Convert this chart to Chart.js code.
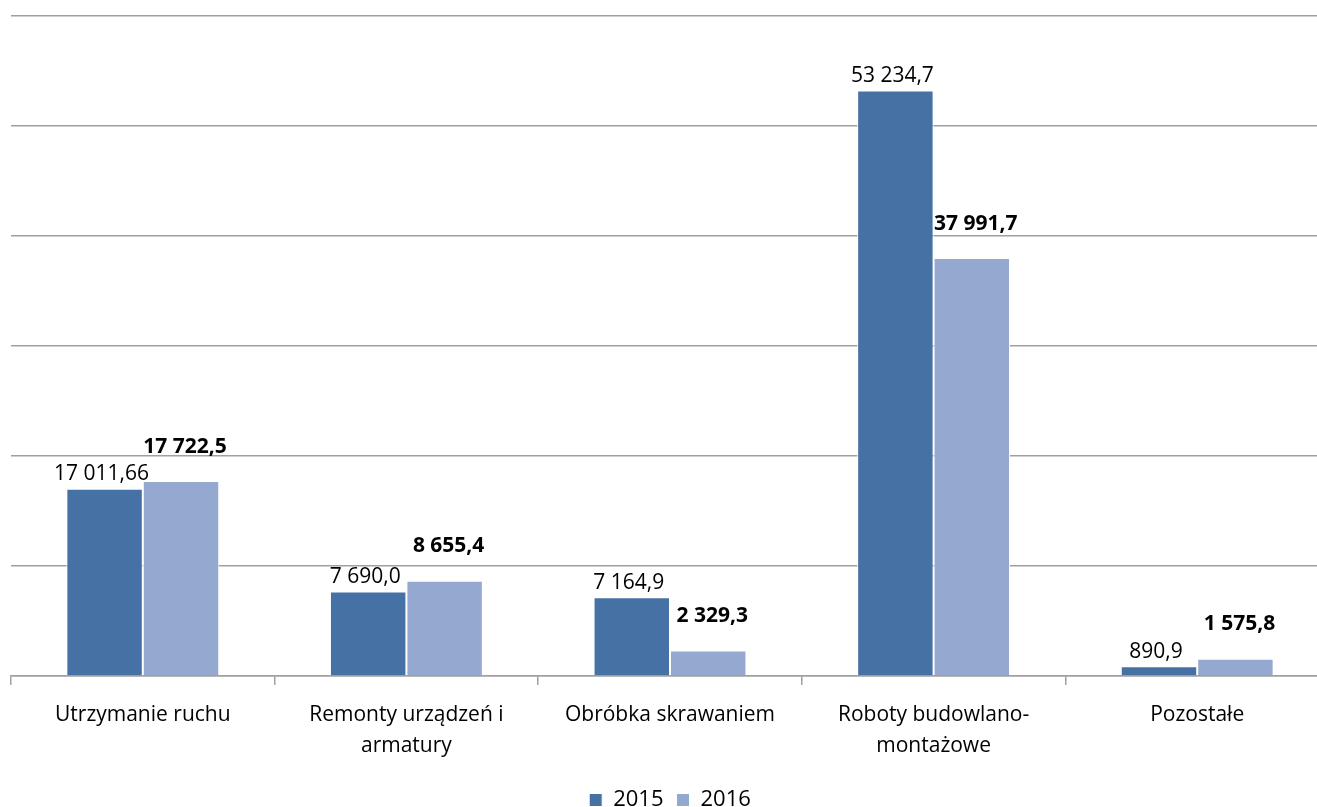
<!DOCTYPE html>
<html>
<head>
<meta charset="utf-8">
<script src="https://cdn.jsdelivr.net/npm/chart.js@4/dist/chart.umd.min.js"></script>
<style>
  html, body { margin: 0; padding: 0; background: #fff; overflow: hidden; }
  #wrap { width: 1329px; height: 821px; }
</style>
</head>
<body>
<div id="wrap"><canvas id="chart"></canvas></div>
<script>
var categories = [
    'Utrzymanie ruchu',
    ['Remonty urządzeń i', 'armatury'],
    'Obróbka skrawaniem',
    ['Roboty budowlano-', 'montażowe'],
    'Pozostałe'
];
var values2015 = [17011.66, 7690.0, 7164.9, 53234.7, 890.9];
var values2016 = [17722.5, 8655.4, 2329.3, 37991.7, 1575.8];
var labels2015 = ['17 011,66', '7 690,0', '7 164,9', '53 234,7', '890,9'];
var labels2016 = ['17 722,5', '8 655,4', '2 329,3', '37 991,7', '1 575,8'];

var FONT = "'Open Sans', 'Noto Sans', sans-serif";

// draws the value labels above each bar
var valueLabels = {
    id: 'valueLabels',
    afterDatasetsDraw: function(chart) {
        var ctx = chart.ctx;
        chart.data.datasets.forEach(function(ds, i) {
            var meta = chart.getDatasetMeta(i);
            meta.data.forEach(function(bar, j) {
                ctx.save();
                ctx.fillStyle = '#000';
                ctx.textAlign = 'center';
                ctx.textBaseline = 'bottom';
                if (i === 0) {
                    ctx.font = '21px ' + FONT;
                    ctx.fillText(ds.valueText[j], bar.x - 3, bar.y - 4);
                } else {
                    ctx.font = 'bold 21px ' + FONT;
                    ctx.fillText(ds.valueText[j], bar.x + 4, bar.y - 24);
                }
                ctx.restore();
            });
        });
    }
};

new Chart(document.getElementById('chart'), {
    type: 'bar',
    data: {
        labels: categories,
        datasets: [{
            label: '2015',
            data: values2015,
            valueText: labels2015,
            backgroundColor: '#4571a5',
            borderColor: '#ffffff',
            borderWidth: 1
        }, {
            label: '2016',
            data: values2016,
            valueText: labels2016,
            backgroundColor: '#95a9d0',
            borderColor: '#ffffff',
            borderWidth: 1
        }]
    },
    options: {
        responsive: true,
        maintainAspectRatio: false,
        animation: false,
        layout: { padding: { top: 16, left: 11, right: 0, bottom: 0 } },
        datasets: {
            bar: { categoryPercentage: 0.58, barPercentage: 1.0 }
        },
        scales: {
            y: {
                min: 0,
                max: 60000,
                ticks: { display: false, stepSize: 10000 },
                border: { display: false },
                grid: { color: '#a0a0a0', lineWidth: 1.5, drawTicks: false }
            },
            x: {
                border: { display: true, color: '#a0a0a0', width: 1.5 },
                grid: { drawOnChartArea: false, color: '#a0a0a0', lineWidth: 1.5, tickLength: 9 },
                ticks: {
                    color: '#000',
                    maxRotation: 0,
                    padding: 14,
                    font: { family: FONT, size: 21, lineHeight: 1.5 }
                }
            }
        },
        plugins: {
            tooltip: { enabled: false },
            legend: {
                position: 'bottom',
                labels: {
                    color: '#000',
                    boxWidth: 13,
                    boxHeight: 13,
                    padding: 13,
                    font: { family: FONT, size: 22 }
                }
            }
        }
    },
    plugins: [valueLabels]
});
</script>
</body>
</html>
